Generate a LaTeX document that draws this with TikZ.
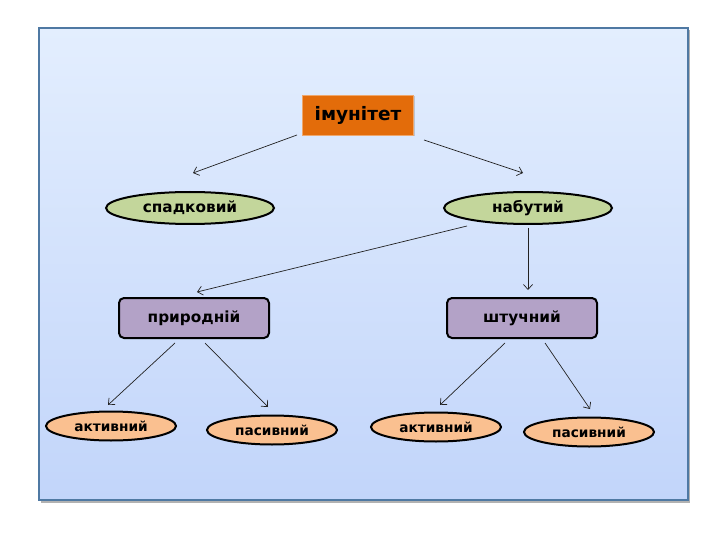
\documentclass[tikz,border=0pt]{standalone}
\usepackage{fontspec}
\setmainfont{DejaVu Sans}
\usetikzlibrary{shapes.geometric,arrows.meta,shadows}
\definecolor{frameTop}{HTML}{E3EEFE}
\definecolor{frameBot}{HTML}{C2D5FA}
\definecolor{frameLine}{HTML}{4F79A3}
\definecolor{orangeF}{HTML}{E36C0A}
\definecolor{greenF}{HTML}{C3D69B}
\definecolor{purpleF}{HTML}{B3A2C7}
\definecolor{peachF}{HTML}{FAC090}
\definecolor{arrowC}{HTML}{222222}
\tikzset{
  topbox/.style={rectangle,fill=orangeF,draw=orangeF!60!white,line width=0.6pt,minimum width=111pt,minimum height=40pt,font=\bfseries\fontsize{18.5}{21}\selectfont,drop shadow={shadow xshift=1.5pt,shadow yshift=-1.5pt,opacity=0.35}},
  greenell/.style={ellipse,fill=greenF,draw=black,line width=2pt,minimum width=168pt,minimum height=32pt,inner sep=0pt,font=\bfseries\fontsize{15.3}{18}\selectfont},
  purplebox/.style={rectangle,rounded corners=5pt,fill=purpleF,draw=black,line width=2pt,minimum width=150pt,minimum height=40pt,font=\bfseries\fontsize{15.3}{18}\selectfont},
  peachell/.style={ellipse,fill=peachF,draw=black,line width=2pt,minimum width=130pt,minimum height=29pt,inner sep=0pt,font=\bfseries\fontsize{13.7}{16}\selectfont},
  conn/.style={draw=arrowC,line width=0.7pt,-{Straight Barb[length=5pt,width=9pt]}}
}
\begin{document}
\begin{tikzpicture}[x=1pt,y=-1pt]
\useasboundingbox (0,0) rectangle (720,540);
\fill[white] (0,0) rectangle (720,540);
% frame shadow
\fill[black!30] (41,30) rectangle (690,503);
\shade[top color=frameTop,bottom color=frameBot] (39,28) rectangle (688,500);
\draw[frameLine,line width=1.2pt] (39,28) rectangle (688,500);
% nodes
\node[topbox] (imun) at (358,115) {імунітет};
\node[greenell] (spad) at (190,208) {спадковий};
\node[greenell] (nab) at (528,208) {набутий};
\node[purplebox] (prir) at (194,318) {природній};
\node[purplebox] (shtu) at (522,318) {штучний};
\node[peachell] (akt1) at (111,426) {активний};
\node[peachell] (pas1) at (272,430) {пасивний};
\node[peachell] (akt2) at (436,427) {активний};
\node[peachell] (pas2) at (589,432) {пасивний};
% connector end points
\coordinate (a1s) at (297,135); \coordinate (a1e) at (193,173);
\coordinate (a2s) at (424,140); \coordinate (a2e) at (523,173);
\coordinate (a3s) at (467,226); \coordinate (a3e) at (197,292);
\coordinate (a4s) at (528,228); \coordinate (a4e) at (528,290);
\coordinate (a5s) at (175,343); \coordinate (a5e) at (108,405);
\coordinate (a6s) at (205,343); \coordinate (a6e) at (268,407);
\coordinate (a7s) at (505,343); \coordinate (a7e) at (440,405);
\coordinate (a8s) at (545,343); \coordinate (a8e) at (590,409);
\draw[conn] (a1s) -- (a1e);
\draw[conn] (a2s) -- (a2e);
\draw[conn] (a3s) -- (a3e);
\draw[conn] (a4s) -- (a4e);
\draw[conn] (a5s) -- (a5e);
\draw[conn] (a6s) -- (a6e);
\draw[conn] (a7s) -- (a7e);
\draw[conn] (a8s) -- (a8e);
\end{tikzpicture}
\end{document}
